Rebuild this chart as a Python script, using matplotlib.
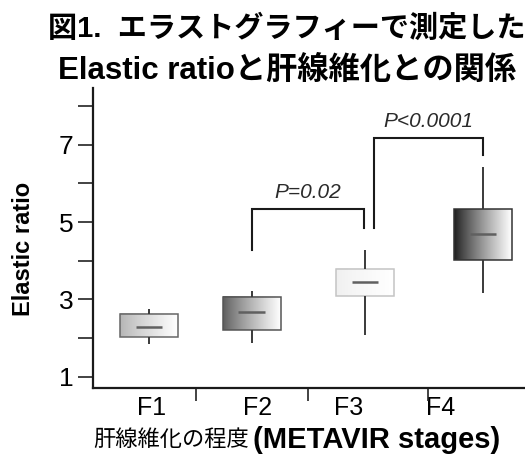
import numpy as np
import matplotlib.pyplot as plt
from matplotlib.colors import LinearSegmentedColormap
from matplotlib.patches import Rectangle

# Elastic ratio by METAVIR fibrosis stage
stages = ['F1', 'F2', 'F3', 'F4']
whisker_lo = [1.84, 1.87, 2.07, 3.16]
q1 = [2.02, 2.20, 3.08, 4.01]
median = [2.28, 2.67, 3.45, 4.69]
q3 = [2.62, 3.06, 3.78, 5.33]
whisker_hi = [2.75, 3.21, 4.27, 6.42]

# significance brackets: (left x, right x, top, left foot, right foot, label)
brackets = [
    (2.0, 3.09, 5.33, 4.29, 4.84, 'P=0.02'),
    (3.19, 4.25, 7.17, 4.84, 6.73, 'P<0.0001'),
]

# layout
box_pos = [1.0, 2.0, 3.1, 4.25]
label_pos = [1.02, 2.06, 2.94, 3.84]
sep_ticks = [1.46, 2.55, 3.71]
box_w = 0.56
shade = ['#b4b4b4', '#5c5c5c', '#f0f0f0', '#1c1c1c']
edge = ['#666666', '#555555', '#c4c4c4', '#333333']

plt.rcParams['font.family'] = ['Liberation Sans', 'Noto Sans CJK JP']

fig = plt.figure(figsize=(5.25, 4.61), dpi=100)
ax = fig.add_axes([0.177, 0.158, 0.825, 0.651])

for i in range(len(stages)):
    x = box_pos[i]
    left = x - box_w / 2
    # horizontal gradient from dark on the left to white on the right
    cmap = LinearSegmentedColormap.from_list('g', [shade[i], '#ffffff'])
    ramp = np.linspace(0, 1, 200) ** 0.85
    ax.imshow(ramp[np.newaxis, :], cmap=cmap, aspect='auto',
              extent=[left, left + box_w, q1[i], q3[i]], zorder=2,
              interpolation='bilinear')
    ax.add_patch(Rectangle((left, q1[i]), box_w, q3[i] - q1[i], fill=False,
                           edgecolor=edge[i], linewidth=1.1, zorder=3))
    ax.vlines(x, q3[i], whisker_hi[i], color='#3a3a3a', linewidth=1.4, zorder=3)
    ax.vlines(x, whisker_lo[i], q1[i], color='#3a3a3a', linewidth=1.4, zorder=3)
    ax.hlines(median[i], x - 0.13, x + 0.13, color='#606060', linewidth=1.8,
              zorder=4)

for xl, xr, top, foot_l, foot_r, label in brackets:
    ax.plot([xl, xl, xr, xr], [foot_l, top, top, foot_r], color='#1a1a1a',
            linewidth=1.5, solid_joinstyle='miter', zorder=3)
    ax.text((xl + xr) / 2, top + 0.18, label, ha='center', va='bottom',
            fontsize=15, style='italic', color='#2a2a2a')

ax.set_xlim(0.454, 4.668)
ax.set_ylim(0.70, 8.47)

ax.set_xticks(label_pos)
ax.set_xticklabels(stages)
ax.set_xticks(sep_ticks, minor=True)
ax.tick_params(axis='x', which='major', length=0, pad=6, labelsize=18)
ax.tick_params(axis='x', which='minor', length=9, width=1.2, direction='out',
               color='#222222')

ax.set_yticks([1, 3, 5, 7])
ax.set_yticks([2, 4, 6, 8], minor=True)
ax.tick_params(axis='y', which='both', length=11, width=1.2, direction='out',
               color='#222222', pad=3, labelsize=19)

for side in ['top', 'right']:
    ax.spines[side].set_visible(False)
for side in ['left', 'bottom']:
    ax.spines[side].set_linewidth(1.6)
    ax.spines[side].set_color('#1a1a1a')

fig.text(0.045, 0.46, 'Elastic ratio', rotation=90, ha='center', va='center',
         fontsize=17, fontweight='bold')

fig.text(0.474, 0.046, '肝線維化の程度', ha='right', va='center', fontsize=16,
         family=['Noto Sans CJK JP'])
fig.text(0.482, 0.046, '(METAVIR stages)', ha='left', va='center',
         fontsize=21, fontweight='bold')

fig.text(0.547, 0.938, '図1.  エラストグラフィーで測定した', ha='center',
         va='center', fontsize=21, fontweight='bold')
fig.text(0.547, 0.846, 'Elastic ratioと肝線維化との関係', ha='center',
         va='center', fontsize=22.5, fontweight='bold')

fig.savefig('out.png', dpi=100)
